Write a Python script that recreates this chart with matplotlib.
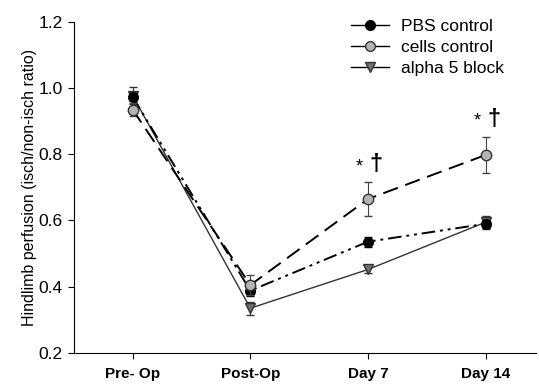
import matplotlib
matplotlib.use('Agg')
import matplotlib.pyplot as plt
from matplotlib.lines import Line2D

days = ['Pre- Op', 'Post-Op', 'Day 7', 'Day 14']
pbs = [0.973, 0.388, 0.536, 0.590]
pbs_err = [0.012, 0.015, 0.015, 0.012]
cells = [0.935, 0.405, 0.665, 0.798]
cells_err = [0.02, 0.03, 0.05, 0.055]
alpha5 = [0.977, 0.335, 0.452, 0.595]
alpha5_err = [0.025, 0.02, 0.01, 0.02]
stars = ['Day 7', 'Day 14']

plt.rcParams['font.family'] = ['Liberation Sans', 'DejaVu Sans']
fig = plt.figure(figsize=(5.39, 3.84), dpi=100)
ax = fig.add_axes([0.137, 0.081, 0.858, 0.862])
x = list(range(len(days)))

ax.errorbar(x, alpha5, yerr=alpha5_err, color='#333333', lw=1.0, ls='-',
            marker='v', ms=7, mfc='#6e6e6e', mec='#333333', capsize=3, elinewidth=0.8, zorder=3)
ax.errorbar(x, pbs, yerr=pbs_err, color='black', lw=1.4, ls=(0, (7, 2.5, 1.5, 2.5, 1.5, 2.5)),
            marker='o', ms=7, mfc='black', mec='black', capsize=3, elinewidth=0.8, zorder=4)
ax.errorbar(x, cells, yerr=cells_err, color='black', lw=1.4, ls=(0, (8, 4)),
            marker='o', ms=7.5, mfc='#b4b4b4', mec='#333333', capsize=3, elinewidth=0.8,
            ecolor='#444444', zorder=5)

for d in stars:
    i = days.index(d)
    ax.text(i - 0.075, cells[i] + cells_err[i] + 0.022, '*', fontsize=13, ha='center', va='bottom')
    ax.text(i + 0.07, cells[i] + cells_err[i] + 0.018, '†', fontsize=17, fontweight='bold',
            ha='center', va='bottom')

ax.set_xlim(-0.5, 3.43)
ax.set_ylim(0.2, 1.2)
ax.set_yticks([0.2, 0.4, 0.6, 0.8, 1.0, 1.2])
ax.set_yticklabels(['0.2', '0.4', '0.6', '0.8', '1.0', '1.2'], fontsize=12.5)
ax.set_xticks(x)
ax.set_xticklabels(days, fontsize=11, fontweight='bold')
ax.tick_params(axis='x', pad=6, length=4)
ax.tick_params(axis='y', length=4, pad=4)
ax.set_ylabel('Hindlimb perfusion (isch/non-isch ratio)', fontsize=11.5, labelpad=1)
for s in ['top', 'right']:
    ax.spines[s].set_visible(False)

handles = [
    Line2D([], [], color='black', lw=1, marker='o', ms=7, mfc='black', mec='black'),
    Line2D([], [], color='black', lw=1, marker='o', ms=7, mfc='#b4b4b4', mec='#333333'),
    Line2D([], [], color='black', lw=1, marker='v', ms=7, mfc='#6e6e6e', mec='#333333'),
]
ax.legend(handles, ['PBS control', 'cells control', 'alpha 5 block'], loc='upper left',
          bbox_to_anchor=(0.565, 1.055), frameon=False, fontsize=12.5, handlelength=2.2,
          labelspacing=0.32, handletextpad=0.7)

fig.savefig('out.png', dpi=100)
